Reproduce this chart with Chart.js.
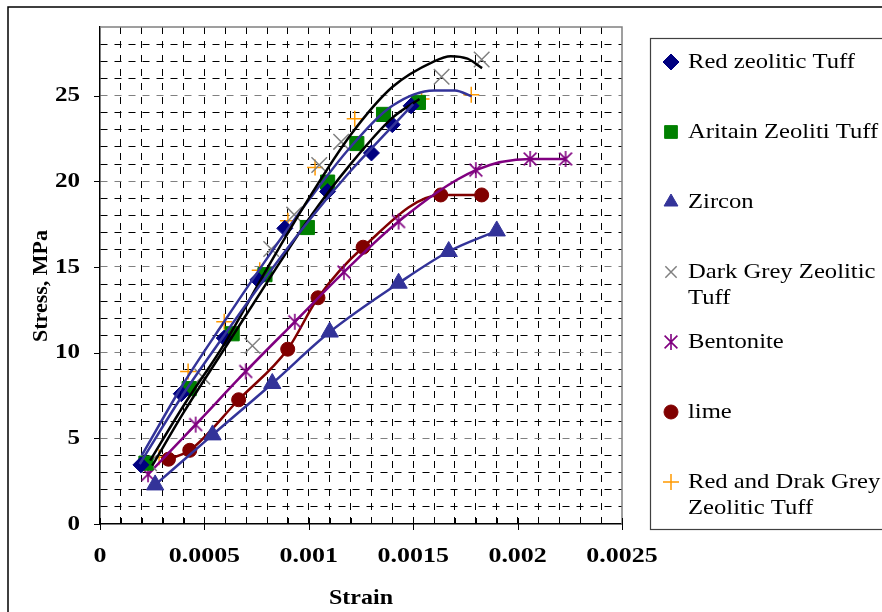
<!DOCTYPE html>
<html lang="en">
<head>
<meta charset="UTF-8">
<title>Stress vs Strain</title>
<style>
    body { margin: 0; background: #ffffff; }
    #wrap { position: relative; width: 882px; height: 612px; }
</style>
</head>
<body>
<div id="wrap"><canvas id="chart" width="882" height="612"></canvas></div>

<script src="https://cdn.jsdelivr.net/npm/chart.js"></script>
<script>
// ---- data ----
const seriesLabels = ['Red zeolitic Tuff', 'Aritain Zeoliti Tuff', 'Zircon', 'Dark Grey Zeolitic Tuff',
                      'Bentonite', 'lime', 'Red and Drak Grey Zeolitic Tuff'];

const redZeoStrain = [0.000196, 0.000389, 0.000595, 0.000756, 0.000885, 0.00109, 0.0013, 0.0014, 0.00149];
const redZeoStress = [3.45, 7.6, 10.85, 14.25, 17.25, 19.4, 21.65, 23.3, 24.4];

const aritainStrain = [0.00022, 0.000427, 0.000633, 0.00079, 0.000993, 0.00109, 0.00123, 0.001358, 0.001525];
const aritainStress = [3.55, 7.9, 11.1, 14.55, 17.3, 19.95, 22.2, 23.9, 24.6];

const zirconStrain = [0.000264, 0.000539, 0.000825, 0.0011, 0.00143, 0.00167, 0.0019];
const zirconStress = [2.28, 5.2, 8.2, 11.2, 14.05, 15.9, 17.1];

const darkGreyStrain = [0.000235, 0.00049, 0.00073, 0.00082, 0.00093, 0.00105, 0.001155, 0.001636, 0.001828];
const darkGreyStress = [3.55, 8.6, 10.4, 16.05, 18.05, 20.95, 22.3, 26.1, 27.1];

const bentoniteStrain = [0.00023, 0.000458, 0.000698, 0.000933, 0.001168, 0.00143, 0.0018, 0.00206, 0.00223];
const bentoniteStress = [2.9, 5.8, 8.9, 11.8, 14.7, 17.65, 20.65, 21.3, 21.3];

const limeStrain = [0.000328, 0.00043, 0.000664, 0.000899, 0.001044, 0.00126, 0.001632, 0.001828];
const limeStress = [3.78, 4.3, 7.25, 10.2, 13.2, 16.15, 19.2, 19.2];

const redGreyStrain = [0.000283, 0.000422, 0.000595, 0.000765, 0.0009, 0.00103, 0.00122, 0.00154, 0.001778];
const redGreyStress = [3.9, 8.9, 11.8, 14.8, 17.7, 20.8, 23.65, 24.8, 25.05];

// trend curves
const redZeoCurveStrain = [0.00019, 0.0004, 0.0006, 0.0008, 0.001, 0.0012, 0.0014, 0.0015];
const redZeoCurveStress = [3.5, 7.6, 11.1, 14.5, 17.7, 20.6, 23.2, 24.5];

const aritainCurveStrain = [0.00025, 0.0004, 0.0006, 0.0008, 0.001, 0.0012, 0.0014, 0.00153];
const aritainCurveStress = [3.4, 6.5, 10.3, 14.1, 17.8, 21.0, 23.7, 24.8];

const darkGreyCurveStrain = [0.00024, 0.0004, 0.0006, 0.0008, 0.001, 0.0012, 0.0014, 0.0016, 0.00168, 0.00176, 0.00183];
const darkGreyCurveStress = [3.7, 6.9, 10.6, 14.9, 19.0, 22.7, 25.5, 27.0, 27.3, 27.15, 26.6];

const redGreyCurveStrain = [0.0002, 0.0004, 0.0006, 0.0008, 0.001, 0.0012, 0.0014, 0.0016, 0.0017, 0.00178];
const redGreyCurveStress = [4.0, 8.2, 11.9, 15.5, 18.9, 22.0, 24.4, 25.3, 25.3, 24.95];

const xTickValues = [0, 0.0005, 0.001, 0.0015, 0.002, 0.0025];
const xTickLabels = ['0', '0.0005', '0.001', '0.0015', '0.002', '0.0025'];
const yTickValues = [0, 5, 10, 15, 20, 25];
const yTickLabels = ['0', '5', '10', '15', '20', '25'];

const xTitle = 'Strain';
const yTitle = 'Stress, MPa';

// ---- helpers ----
const toPts = (xs, ys) => xs.map((x, i) => ({ x: x, y: ys[i] }));

function makeAsterisk(size, color) {
    const c = document.createElement('canvas');
    c.width = size; c.height = size;
    const g = c.getContext('2d');
    const m = size / 2, r = size / 2 - 1;
    g.strokeStyle = color;
    g.lineWidth = 1.6;
    g.beginPath();
    g.moveTo(m - r * 0.8, m - r * 0.8); g.lineTo(m + r * 0.8, m + r * 0.8);
    g.moveTo(m + r * 0.8, m - r * 0.8); g.lineTo(m - r * 0.8, m + r * 0.8);
    g.moveTo(m, m - r); g.lineTo(m, m + r);
    g.stroke();
    return c;
}
const asterisk = makeAsterisk(18, '#800080');

function markers(label, xs, ys, style, radius, fill, stroke, bw) {
    return {
        label: label, data: toPts(xs, ys), showLine: false, order: 1,
        pointStyle: style, pointRadius: radius, pointHoverRadius: radius,
        backgroundColor: fill, borderColor: stroke, pointBorderWidth: bw
    };
}
function curve(xs, ys, color) {
    return {
        label: '', data: toPts(xs, ys), showLine: true, order: 0, isCurve: true,
        pointRadius: 0, borderColor: color, borderWidth: 2.5,
        cubicInterpolationMode: 'monotone', fill: false
    };
}
function lineMarkers(label, xs, ys, style, radius, color) {
    const d = markers(label, xs, ys, style, radius, color, color, 1);
    d.showLine = true;
    d.borderWidth = 2.5;
    d.cubicInterpolationMode = 'monotone';
    return d;
}

const datasets = [
    markers(seriesLabels[0], redZeoStrain, redZeoStress, 'rectRot', 8, '#000080', '#000080', 1),
    markers(seriesLabels[1], aritainStrain, aritainStress, 'rect', 10, '#008000', '#008000', 1),
    lineMarkers(seriesLabels[2], zirconStrain, zirconStress, 'triangle', 10, '#333399'),
    markers(seriesLabels[3], darkGreyStrain, darkGreyStress, 'crossRot', 11, '#808080', '#808080', 1.5),
    lineMarkers(seriesLabels[4], bentoniteStrain, bentoniteStress, asterisk, 9, '#800080'),
    lineMarkers(seriesLabels[5], limeStrain, limeStress, 'circle', 7, '#800000'),
    markers(seriesLabels[6], redGreyStrain, redGreyStress, 'cross', 8, '#FF9900', '#FF9900', 1.5),
    curve(redZeoCurveStrain, redZeoCurveStress, '#333399'),
    curve(aritainCurveStrain, aritainCurveStress, '#000000'),
    curve(darkGreyCurveStrain, darkGreyCurveStress, '#000000'),
    curve(redGreyCurveStrain, redGreyCurveStress, '#333399')
];

// text drawn a little wider, as in the picture
function wideText(ctx, text, x, y, align, font, sx) {
    ctx.save();
    ctx.font = font;
    ctx.textAlign = align;
    ctx.textBaseline = 'middle';
    ctx.fillStyle = '#000';
    ctx.translate(x, y);
    ctx.scale(sx, 1);
    ctx.fillText(text, 0, 0);
    ctx.restore();
}

const decorPlugin = {
    id: 'decor',
    beforeDatasetsDraw(chart) {
        const ctx = chart.ctx;
        const a = chart.chartArea;
        const xs = chart.scales.x, ys = chart.scales.y;
        ctx.save();
        // grey frame top and right
        ctx.strokeStyle = '#808080';
        ctx.lineWidth = 1.5;
        ctx.beginPath();
        ctx.moveTo(a.left, a.top); ctx.lineTo(a.right, a.top); ctx.lineTo(a.right, a.bottom);
        ctx.stroke();
        // tick marks
        ctx.strokeStyle = '#000';
        ctx.lineWidth = 1;
        ctx.beginPath();
        xs.ticks.forEach(t => {
            const px = Math.round(xs.getPixelForValue(t.value)) + 0.5;
            const major = Math.abs(t.value / 0.0005 - Math.round(t.value / 0.0005)) < 1e-6;
            ctx.moveTo(px, a.bottom - 6);
            ctx.lineTo(px, a.bottom + (major ? 6 : 0));
        });
        yTickValues.forEach(v => {
            const py = Math.round(ys.getPixelForValue(v)) + 0.5;
            ctx.moveTo(a.left - 6, py);
            ctx.lineTo(a.left, py);
        });
        ctx.stroke();
        ctx.restore();
    },
    afterDraw(chart) {
        const ctx = chart.ctx;
        const a = chart.chartArea;
        const xs = chart.scales.x, ys = chart.scales.y;

        // outer chart border
        ctx.save();
        ctx.strokeStyle = '#000';
        ctx.lineWidth = 1.5;
        ctx.strokeRect(8, 7, 900, 700);
        ctx.restore();

        // tick labels
        xTickValues.forEach((v, i) => {
            wideText(ctx, xTickLabels[i], xs.getPixelForValue(v), 556, 'center', 'bold 22px "Liberation Serif"', 1.18);
        });
        yTickValues.forEach((v, i) => {
            wideText(ctx, yTickLabels[i], 80, ys.getPixelForValue(v), 'right', 'bold 22px "Liberation Serif"', 1.14);
        });

        // axis titles
        wideText(ctx, xTitle, (a.left + a.right) / 2, 598, 'center', 'bold 22px "Liberation Serif"', 1.09);
        ctx.save();
        ctx.translate(41, 286);
        ctx.rotate(-Math.PI / 2);
        wideText(ctx, yTitle, 0, 0, 'center', 'bold 22px "Liberation Serif"', 1.0);
        ctx.restore();

        // legend box
        ctx.save();
        ctx.strokeStyle = '#404040';
        ctx.lineWidth = 1.2;
        ctx.strokeRect(650.5, 38.5, 260, 491);
        ctx.restore();

        const font = '22px "Liberation Serif"';
        const sx = 1.12;
        const maxW = 196;
        ctx.save();
        ctx.font = font;
        chart.data.datasets.forEach((ds, i) => {
            if (ds.isCurve) return;
            const cy = 62 + i * 70;
            // marker
            ctx.save();
            ctx.fillStyle = ds.backgroundColor;
            ctx.strokeStyle = ds.borderColor;
            ctx.lineWidth = ds.pointBorderWidth;
            const r = ds.pointStyle === 'rect' ? 9 : Math.min(ds.pointRadius, 8);
            if (Chart.helpers && Chart.helpers.drawPoint) {
                Chart.helpers.drawPoint(ctx, { pointStyle: ds.pointStyle, radius: r, borderWidth: ds.pointBorderWidth, rotation: 0 }, 671, cy);
            }
            ctx.restore();
            // wrap label
            const words = ds.label.split(' ');
            const lines = [];
            let cur = '';
            words.forEach(w => {
                const test = cur ? cur + ' ' + w : w;
                if (ctx.measureText(test).width * sx > maxW && cur) {
                    lines.push(cur); cur = w;
                } else {
                    cur = test;
                }
            });
            lines.push(cur);
            lines.forEach((ln, k) => {
                wideText(ctx, ln, 688, cy + k * 26, 'left', font, sx);
            });
        });
        ctx.restore();
    }
};

function gridColorX(c) {
    const v = c.tick ? c.tick.value : 0;
    if (Math.abs(v) < 1e-12 || Math.abs(v - 0.0025) < 1e-9) return 'rgba(0,0,0,0)';
    return '#000000';
}
function gridColorY(c) {
    const v = c.tick ? c.tick.value : 0;
    if (v === 0 || v === 29) return 'rgba(0,0,0,0)';
    return v % 5 === 0 ? '#808080' : '#000000';
}

new Chart(document.getElementById('chart'), {
    type: 'scatter',
    data: { datasets: datasets },
    options: {
        responsive: false,
        animation: false,
        layout: { padding: { left: 0, top: 27, right: 260, bottom: 0 } },
        plugins: { legend: { display: false }, tooltip: { enabled: false } },
        scales: {
            x: {
                type: 'linear', min: 0, max: 0.0025,
                afterFit: s => { s.height = 88; },
                ticks: { stepSize: 0.0001, autoSkip: false, display: false },
                grid: { color: gridColorX, lineWidth: 1, drawTicks: false },
                border: { display: true, color: '#000', width: 1.5, dash: [7, 7] }
            },
            y: {
                type: 'linear', min: 0, max: 29,
                afterFit: s => { s.width = 100; },
                ticks: { stepSize: 1, autoSkip: false, display: false },
                grid: { color: gridColorY, lineWidth: 1, drawTicks: false },
                border: { display: true, color: '#000', width: 1.5, dash: [7, 7] }
            }
        }
    },
    plugins: [decorPlugin]
});
</script>
</body>
</html>
